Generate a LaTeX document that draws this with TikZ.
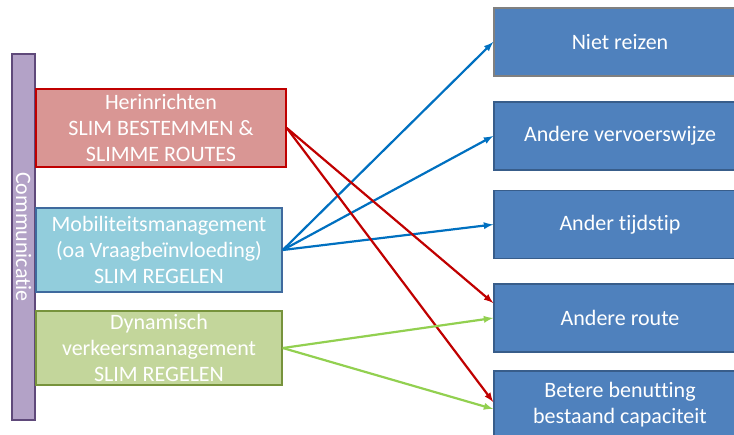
\documentclass[tikz,border=0pt]{standalone}
\usepackage{fontspec}
\setmainfont{Carlito}[Ligatures=NoCommon]
\usepackage{xcolor}
\usepackage{tikz}
\definecolor{commfill}{HTML}{B3A2C7}
\definecolor{commline}{HTML}{5F497A}
\definecolor{redfill}{HTML}{D99694}
\definecolor{redline}{HTML}{C00000}
\definecolor{bluefill}{HTML}{92CDDC}
\definecolor{blueline}{HTML}{3F6A9E}
\definecolor{greenfill}{HTML}{C3D69B}
\definecolor{greenline}{HTML}{77933C}
\definecolor{outfill}{HTML}{4F81BD}
\definecolor{outline}{HTML}{385D8A}
\definecolor{bluearrow}{HTML}{0070C0}
\definecolor{greenarrow}{HTML}{92D050}
\tikzstyle{leftbox} = [draw, line width=1.5pt, text=white, align=center, font=\fontsize{22}{26}\selectfont, inner sep=0pt]
\tikzstyle{outbox} = [draw=outline, fill=outfill, line width=1.5pt, text=white, align=center, font=\fontsize{22}{26}\selectfont, minimum width=252pt, minimum height=68pt, inner sep=0pt]
\tikzstyle{link} = [line width=2.2pt, -latex]

\begin{document}
\begin{tikzpicture}[x=1pt, y=-1pt]
    \useasboundingbox (0,0) rectangle (734,434);
    \clip (0,0) rectangle (734,434);
    % left side
    \node[leftbox, draw=commline, fill=commfill, minimum width=23pt, minimum height=366pt] (comm) at (23.5,237) {};
    \node[text=white, rotate=-90, font=\fontsize{22}{26}\selectfont] (commtext) at (comm.center) {Communicatie};
    \node[leftbox, draw=redline, fill=redfill, minimum width=250pt, minimum height=78pt] (herin) at (161,128)
        {Herinrichten\\SLIM BESTEMMEN \&\\SLIMME ROUTES};
    \node[leftbox, draw=blueline, fill=bluefill, minimum width=246pt, minimum height=84pt] (mobi) at (159,250)
        {Mobiliteitsmanagement\\(oa Vraagbeïnvloeding)\\SLIM REGELEN};
    \node[leftbox, draw=greenline, fill=greenfill, minimum width=246pt, minimum height=74pt] (dvm) at (159,348)
        {Dynamisch\\verkeersmanagement\\SLIM REGELEN};
    % right side
    \node[outbox, draw=gray] (niet) at (620,42) {Niet reizen};
    \node[outbox] (vervoer) at (620,136) {Andere vervoerswijze};
    \node[outbox] (tijd) at (620,224.5) {Ander tijdstip};
    \node[outbox] (route) at (620,318) {Andere route};
    \node[outbox] (benut) at (620,405) {Betere benutting\\bestaand capaciteit};
    % arrows
    \draw[link, bluearrow] (mobi.east) -- (niet.west);
    \draw[link, bluearrow] (mobi.east) -- (vervoer.west);
    \draw[link, bluearrow] (mobi.east) -- (tijd.west);
    \draw[link, redline] (herin.east) -- ([yshift=15pt]route.west);
    \draw[link, redline] (herin.east) -- ([yshift=3pt]benut.west);
    \draw[link, greenarrow] (dvm.east) -- (route.west);
    \draw[link, greenarrow] (dvm.east) -- ([yshift=-4pt]benut.west);
\end{tikzpicture}
\end{document}
